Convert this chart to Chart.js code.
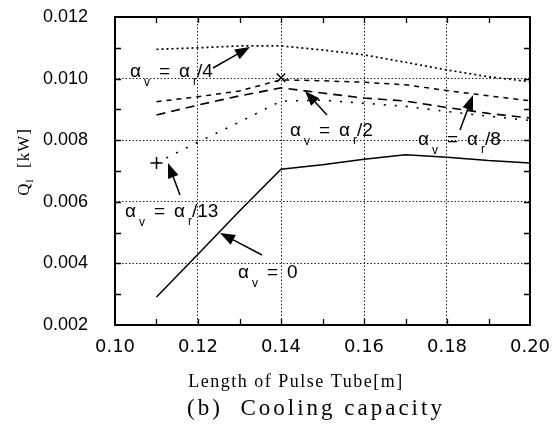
<!DOCTYPE html>
<html><head><meta charset="utf-8">
<script src="https://cdn.jsdelivr.net/npm/chart.js@4.4.1/dist/chart.umd.min.js"></script>
<style>html,body{margin:0;padding:0;background:#fff}#wrap{width:553px;height:436px}</style>
</head><body><div id="wrap"><canvas id="c" width="553" height="436"></canvas></div>
<script>
// ---- data ----
const lengths   = [0.11, 0.12, 0.13, 0.14, 0.15, 0.16, 0.17, 0.18, 0.19, 0.20];
const alphaZero = [0.00291, 0.00430, 0.00570, 0.00706, 0.00720, 0.00738, 0.00753, 0.00745, 0.00734, 0.00726];
const alphaR4   = [0.01095, 0.01100, 0.01106, 0.01106, 0.01093, 0.01077, 0.01053, 0.01028, 0.01006, 0.00990];
const alphaR8   = [0.00925, 0.00941, 0.00960, 0.00996, 0.00993, 0.00988, 0.00980, 0.00961, 0.00944, 0.00928];
const alphaR2   = [0.00882, 0.00914, 0.00944, 0.00970, 0.00953, 0.00937, 0.00927, 0.00906, 0.00887, 0.00872];
const alphaR13  = [0.00726, 0.00794, 0.00859, 0.00927, 0.00930, 0.00920, 0.00910, 0.00893, 0.00878, 0.00864];
const plusMarker  = [{x: 0.11, y: 0.00726}];
const crossMarker = [{x: 0.14, y: 0.01003}];
const xTickValues = [0.10, 0.12, 0.14, 0.16, 0.18, 0.20];
const yTickValues = [0.002, 0.004, 0.006, 0.008, 0.010, 0.012];
const seriesNames = ['αv = 0', 'αv = αr/4', 'αv = αr/8', 'αv = αr/2', 'αv = αr/13'];

// annotation placement (data coordinates)
const notes = [
  {tail: '/4',  at: [0.10361, 0.010052], from: [0.12361, 0.010344], to: [0.13253, 0.011026]},
  {tail: '/2',  at: [0.14217, 0.008136], from: [0.15108, 0.008818], to: [0.14578, 0.009597]},
  {tail: '/8',  at: [0.17301, 0.007844], from: [0.18313, 0.008331], to: [0.18627, 0.009468]},
  {tail: '/13', at: [0.10241, 0.005506], from: [0.11566, 0.006221], to: [0.11277, 0.007260]},
  {tail: '0',   at: [0.12964, 0.003526], from: [0.13542, 0.004273], to: [0.12530, 0.004987]}
];

const pts = arr => lengths.map((x, i) => ({x, y: arr[i]}));

function line(label, arr, dash, width) {
  return {label, data: pts(arr), borderColor: '#000', backgroundColor: '#000',
          borderWidth: width || 1.4, borderDash: dash, pointRadius: 0, fill: false, tension: 0};
}

const decor = {
  id: 'decor',
  afterDraw(chart) {
    const {ctx, chartArea: a, scales: {x, y}} = chart;
    ctx.save();
    // inward minor ticks
    ctx.strokeStyle = '#000'; ctx.lineWidth = 1.3; ctx.setLineDash([]);
    ctx.beginPath();
    for (let v = 0.11; v < 0.1995; v += 0.01) {
      const px = Math.round(x.getPixelForValue(v)) + 0.5;
      ctx.moveTo(px, a.bottom); ctx.lineTo(px, a.bottom - 6);
      ctx.moveTo(px, a.top); ctx.lineTo(px, a.top + 6);
    }
    for (let v = 0.003; v < 0.0119; v += 0.001) {
      const py = Math.round(y.getPixelForValue(v)) + 0.5;
      ctx.moveTo(a.left, py); ctx.lineTo(a.left + 6, py);
      ctx.moveTo(a.right, py); ctx.lineTo(a.right - 6, py);
    }
    ctx.stroke();
    // frame
    ctx.lineWidth = 2;
    ctx.strokeRect(a.left, a.top, a.right - a.left, a.bottom - a.top);

    // annotations
    const big = '19px "Liberation Sans", Arial, sans-serif';
    const small = '12px "Liberation Sans", Arial, sans-serif';
    ctx.fillStyle = '#000';
    ctx.textBaseline = 'alphabetic'; ctx.textAlign = 'left';
    notes.forEach(n => {
      const lx = x.getPixelForValue(n.at[0]), ly = y.getPixelForValue(n.at[1]);
      ctx.font = big; ctx.fillText('α', lx, ly);
      ctx.font = small; ctx.fillText('v', lx + 14, ly + 9);
      ctx.font = big; ctx.fillText('=', lx + 29, ly);
      if (n.tail === '0') {
        ctx.fillText('0', lx + 49, ly);
      } else {
        ctx.fillText('α', lx + 49, ly);
        ctx.font = small; ctx.fillText('r', lx + 63, ly + 8);
        ctx.font = big; ctx.fillText(n.tail, lx + 67, ly);
      }
      // arrow
      const fx = x.getPixelForValue(n.from[0]), fy = y.getPixelForValue(n.from[1]);
      const tx = x.getPixelForValue(n.to[0]), ty = y.getPixelForValue(n.to[1]);
      const ang = Math.atan2(ty - fy, tx - fx);
      const hl = 15, hw = 5.5;
      const bx = tx - hl * Math.cos(ang), by = ty - hl * Math.sin(ang);
      ctx.lineWidth = 1.5;
      ctx.beginPath(); ctx.moveTo(fx, fy); ctx.lineTo(bx, by); ctx.stroke();
      ctx.beginPath();
      ctx.moveTo(tx, ty);
      ctx.lineTo(bx + hw * Math.sin(ang), by - hw * Math.cos(ang));
      ctx.lineTo(bx - hw * Math.sin(ang), by + hw * Math.cos(ang));
      ctx.closePath(); ctx.fill();
    });

    // axis titles and caption
    ctx.textAlign = 'center'; ctx.textBaseline = 'middle';
    ctx.font = '18px "Liberation Serif", "Times New Roman", serif';
    if ('letterSpacing' in ctx) ctx.letterSpacing = '1.5px';
    ctx.fillText('Length of Pulse Tube[m]', 296, 382);
    ctx.font = '23px "Liberation Serif", "Times New Roman", serif';
    if ('letterSpacing' in ctx) ctx.letterSpacing = '3px';
    ctx.fillText('(b)  Cooling capacity', 316, 409);

    // y title (rotated)
    ctx.save();
    ctx.translate(25, 162);
    ctx.rotate(-Math.PI / 2);
    if ('letterSpacing' in ctx) ctx.letterSpacing = '1px';
    ctx.textAlign = 'left';
    ctx.font = '17px "Liberation Serif", "Times New Roman", serif';
    const w1 = ctx.measureText('Q').width;
    const rest = '  [kW]';
    ctx.font = '11px "Liberation Serif", serif';
    const w2 = ctx.measureText('l').width;
    ctx.font = '17px "Liberation Serif", "Times New Roman", serif';
    const w3 = ctx.measureText(rest).width;
    const start = -(w1 + w2 + w3) / 2;
    ctx.fillText('Q', start, 0);
    ctx.font = '11px "Liberation Serif", serif';
    ctx.fillText('l', start + w1, 5);
    ctx.font = '17px "Liberation Serif", "Times New Roman", serif';
    ctx.fillText(rest, start + w1 + w2, 0);
    ctx.restore();
    ctx.restore();
  }
};

new Chart(document.getElementById('c'), {
  type: 'line',
  data: {
    datasets: [
      line(seriesNames[0], alphaZero, [], 1.5),
      line(seriesNames[1], alphaR4, [2, 3], 1.7),
      line(seriesNames[2], alphaR8, [5, 5], 1.5),
      line(seriesNames[3], alphaR2, [9, 6], 1.6),
      line(seriesNames[4], alphaR13, [2, 9], 1.6),
      {label: '+', data: plusMarker, showLine: false, pointStyle: 'cross', pointRadius: 6,
       pointBorderWidth: 1.5, borderColor: '#000', pointBorderColor: '#000'},
      {label: '×', data: crossMarker, showLine: false, pointStyle: 'crossRot', pointRadius: 6,
       pointBorderWidth: 1.5, borderColor: '#000', pointBorderColor: '#000'}
    ]
  },
  options: {
    responsive: false, animation: false, devicePixelRatio: 1,
    layout: {padding: {top: 17, right: 23, bottom: 0, left: 0}},
    plugins: {legend: {display: false}, tooltip: {enabled: false}, title: {display: false}},
    scales: {
      x: {
        type: 'linear', min: 0.10, max: 0.20,
        afterBuildTicks: s => { s.ticks = xTickValues.map(v => ({value: v})); },
        afterFit: s => { s.height = 111; },
        ticks: {color: '#000', padding: 0, maxRotation: 0, autoSkip: false,
                font: {family: '"DejaVu Sans", sans-serif', size: 18},
                callback: v => Number(v).toFixed(2)},
        grid: {color: '#222', lineWidth: 1, drawTicks: true, tickLength: 12, tickColor: 'rgba(0,0,0,0)'},
        border: {display: false, dash: [1.5, 2]}
      },
      y: {
        type: 'linear', min: 0.002, max: 0.012,
        afterBuildTicks: s => { s.ticks = yTickValues.map(v => ({value: v})); },
        afterFit: s => { s.width = 115; },
        ticks: {color: '#000', padding: 0, autoSkip: false,
                font: {family: '"Liberation Sans", Arial, sans-serif', size: 18},
                callback: v => Number(v).toFixed(3)},
        grid: {color: '#222', lineWidth: 1, drawTicks: true, tickLength: 27, tickColor: 'rgba(0,0,0,0)'},
        border: {display: false, dash: [1.5, 2]}
      }
    }
  },
  plugins: [decor]
});
</script></body></html>
